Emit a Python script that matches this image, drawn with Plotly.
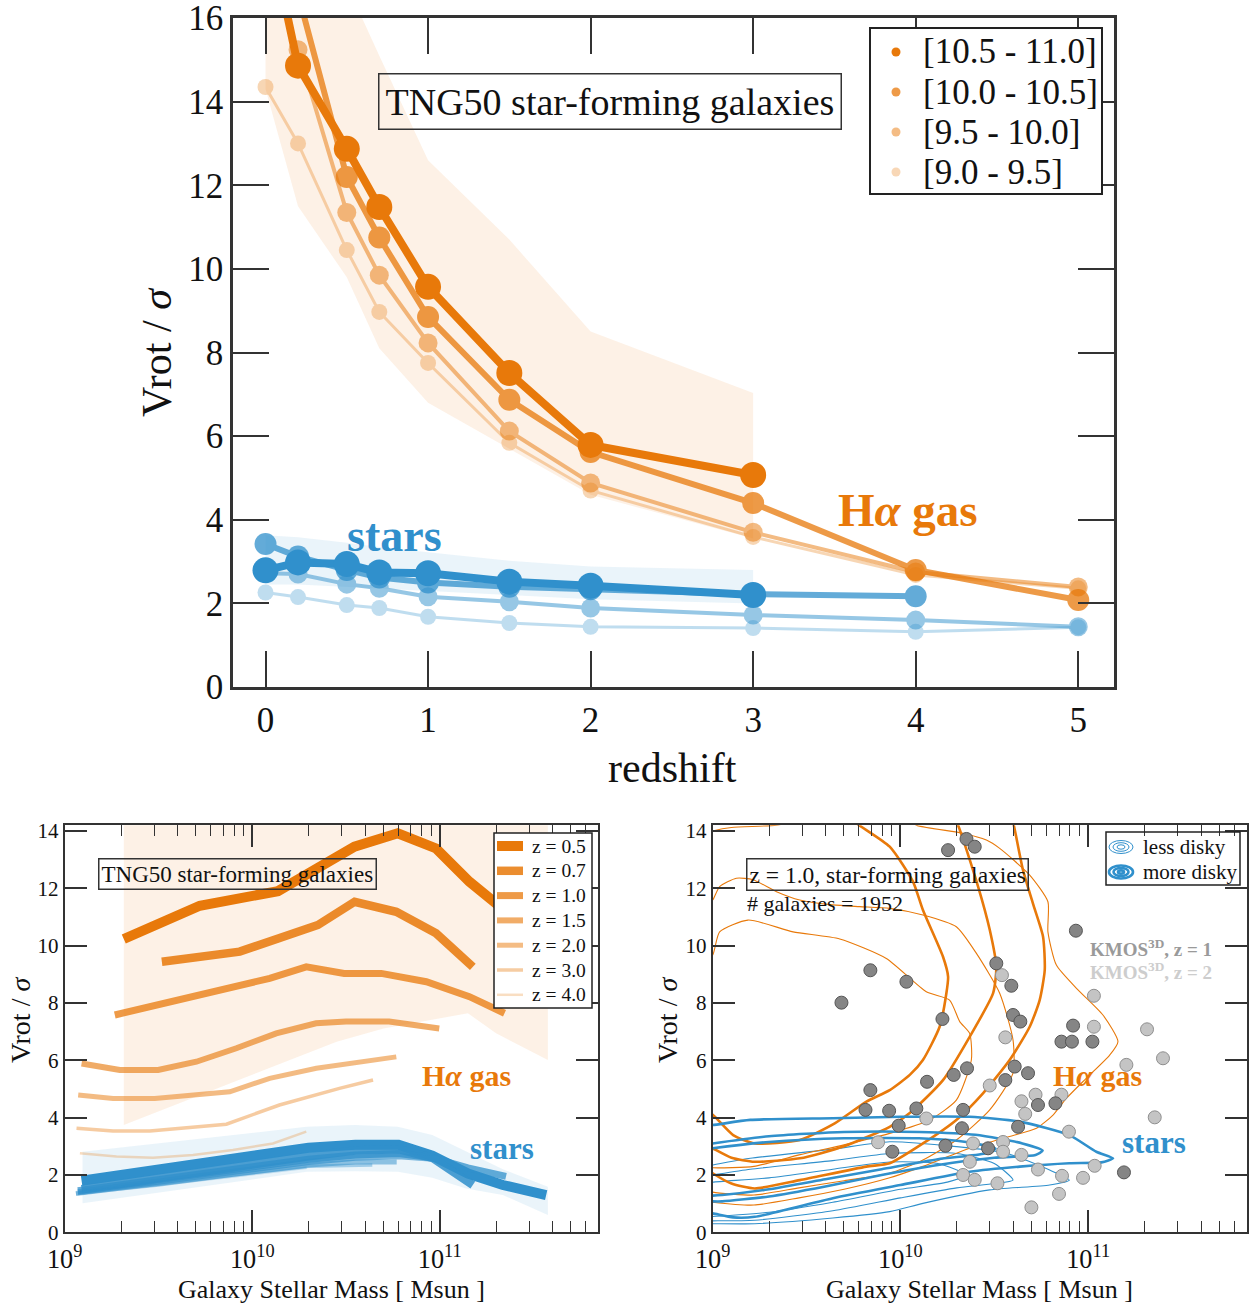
import numpy as np
import plotly.graph_objects as go

W, H = 1250, 1306
ORANGE = (232, 121, 10)
BLUE = (48, 144, 204)
SERIF = "Liberation Serif"
AXC = "#333333"


def rgba(c, a):
    return "rgba(%d,%d,%d,%.3f)" % (c[0], c[1], c[2], a)


def tint(c, a):
    # colour of c drawn at opacity a over white
    return "rgb(%d,%d,%d)" % tuple(round(255 - (255 - v) * a) for v in c)


def px(x):
    return x / W


def py(y):
    return 1 - y / H


# ---------------- top panel: Vrot/sigma against redshift -----------------
mass_bins = ["[10.5 - 11.0]", "[10.0 - 10.5]", "[9.5 - 10.0]", "[9.0 - 9.5]"]
bin_alpha = [1.0, 0.75, 0.5, 0.3]
bin_width = [8, 6, 4, 3]
bin_msize = [26, 22, 19, 16]

gas_z_b1 = [0, 0.2, 0.5, 0.7, 1, 1.5, 2, 3]
gas_v_b1 = [18.5, 14.86, 12.87, 11.48, 9.57, 7.51, 5.79, 5.07]
gas_z_b2 = [0, 0.2, 0.5, 0.7, 1, 1.5, 2, 3, 4, 5]
gas_v_b2 = [19.5, 16.6, 12.2, 10.75, 8.85, 6.87, 5.62, 4.4, 2.8, 2.08]
gas_z_b3 = [0.2, 0.5, 0.7, 1, 1.5, 2, 3, 4, 5]
gas_v_b3 = [15.24, 11.35, 9.85, 8.23, 6.12, 4.88, 3.7, 2.75, 2.39]
gas_z_b4 = [0, 0.2, 0.5, 0.7, 1, 1.5, 2, 3, 4, 5]
gas_v_b4 = [14.35, 13.0, 10.45, 8.97, 7.75, 5.84, 4.7, 3.59, 2.68, 2.36]

star_z_b1 = [0, 0.2, 0.5, 0.7, 1, 1.5, 2, 3]
star_v_b1 = [2.79, 2.98, 2.94, 2.74, 2.72, 2.52, 2.42, 2.2]
star_z_b2 = [0, 0.2, 0.5, 0.7, 1, 1.5, 2, 3, 4]
star_v_b2 = [3.42, 3.12, 2.8, 2.62, 2.5, 2.4, 2.34, 2.22, 2.17]
star_z_b3 = [0, 0.2, 0.5, 0.7, 1, 1.5, 2, 3, 4, 5]
star_v_b3 = [2.72, 2.7, 2.46, 2.36, 2.16, 2.04, 1.89, 1.72, 1.6, 1.44]
star_z_b4 = [0, 0.2, 0.5, 0.7, 1, 1.5, 2, 3, 4, 5]
star_v_b4 = [2.26, 2.15, 1.96, 1.89, 1.68, 1.53, 1.44, 1.41, 1.32, 1.43]

gas_band_z = [0, 0.2, 0.5, 0.7, 1, 1.5, 2, 3]
gas_band_lo = [14.3, 11.5, 9.8, 8.1, 6.8, 5.7, 4.6, 3.55]
gas_band_hi = [17.0, 17.0, 16.8, 15.1, 12.6, 10.7, 8.5, 7.03]
star_band_z = [0, 0.2, 0.5, 0.7, 1, 1.5, 2, 3]
star_band_lo = [2.45, 2.45, 2.4, 2.35, 2.3, 2.2, 2.1, 2.0]
star_band_hi = [3.63, 3.58, 3.45, 3.35, 3.22, 3.02, 2.88, 2.8]

gas_bins = [(gas_z_b1, gas_v_b1), (gas_z_b2, gas_v_b2), (gas_z_b3, gas_v_b3), (gas_z_b4, gas_v_b4)]
star_bins = [(star_z_b1, star_v_b1), (star_z_b2, star_v_b2), (star_z_b3, star_v_b3), (star_z_b4, star_v_b4)]

# ---------------- bottom-left: Vrot/sigma against stellar mass -----------------
z_labels = ["z = 0.5", "z = 0.7", "z = 1.0", "z = 1.5", "z = 2.0", "z = 3.0", "z = 4.0"]
z_alpha = [1.0, 0.85, 0.75, 0.62, 0.5, 0.38, 0.25]
z_width = [10, 8.5, 7, 6, 5, 3.5, 2.5]

gas_logm_z05 = [9.315, 9.72, 10.137, 10.545, 10.776, 10.98, 11.158, 11.29, 11.35]
gas_v_z05 = [10.23, 11.39, 11.9, 13.45, 13.92, 13.39, 12.23, 11.53, 11.2]
gas_logm_z07 = [9.518, 9.933, 10.35, 10.546, 10.768, 10.98, 11.176]
gas_v_z07 = [9.44, 9.79, 10.72, 11.53, 11.18, 10.43, 9.26]
gas_logm_z10 = [9.267, 9.897, 10.093, 10.288, 10.49, 10.688, 10.928, 11.158, 11.345]
gas_v_z10 = [7.58, 8.51, 8.86, 9.26, 9.03, 9.03, 8.74, 8.22, 7.64]
gas_logm_z15 = [9.09, 9.294, 9.498, 9.702, 9.915, 10.128, 10.34, 10.5, 10.73, 10.997]
gas_v_z15 = [5.89, 5.66, 5.66, 5.95, 6.42, 6.94, 7.29, 7.35, 7.35, 7.11]
gas_logm_z20 = [9.072, 9.258, 9.48, 9.88, 10.093, 10.342, 10.768]
gas_v_z20 = [4.79, 4.67, 4.67, 4.9, 5.37, 5.72, 6.12]
gas_logm_z30 = [9.063, 9.258, 9.454, 9.862, 10.145, 10.465, 10.644]
gas_v_z30 = [3.63, 3.53, 3.53, 3.77, 4.44, 5.02, 5.31]
gas_logm_z40 = [9.081, 9.276, 9.471, 9.684, 9.897, 10.11, 10.288]
gas_v_z40 = [2.76, 2.64, 2.6, 2.7, 2.87, 3.1, 3.51]

star_logm_z05 = [9.09, 9.3, 9.7, 10.1, 10.3, 10.55, 10.78, 10.96, 11.15, 11.336, 11.567]
star_v_z05 = [1.8, 2.0, 2.45, 2.8, 2.95, 3.05, 3.05, 2.67, 2.05, 1.65, 1.3]
star_logm_z07 = [9.09, 9.5, 9.9, 10.3, 10.55, 10.78, 10.96, 11.176]
star_v_z07 = [1.5, 1.9, 2.3, 2.65, 2.85, 2.9, 2.6, 1.65]
star_logm_z10 = [9.07, 9.5, 9.9, 10.3, 10.55, 10.78, 10.96, 11.15, 11.353]
star_v_z10 = [1.45, 1.85, 2.2, 2.55, 2.7, 2.75, 2.6, 2.25, 1.95]
star_logm_z15 = [9.07, 9.5, 9.9, 10.3, 10.55, 10.78, 11.0]
star_v_z15 = [1.4, 1.75, 2.1, 2.45, 2.6, 2.65, 2.55]
star_logm_z20 = [9.06, 9.5, 9.9, 10.3, 10.55, 10.77]
star_v_z20 = [1.35, 1.7, 2.05, 2.35, 2.45, 2.45]
star_logm_z30 = [9.06, 9.5, 9.9, 10.3, 10.64]
star_v_z30 = [1.35, 1.65, 2.0, 2.3, 2.35]
star_logm_z40 = [9.08, 9.5, 9.9, 10.29]
star_v_z40 = [1.4, 1.65, 1.95, 2.25]

mass_gas_band_logm = [9.315, 10.45, 10.7, 11.15, 11.3, 11.576]
mass_gas_band_lo = [3.74, 6.65, 7.11, 7.64, 6.94, 6.01]
mass_gas_band_hi = [15.0, 15.0, 15.0, 15.0, 15.0, 15.0]
mass_star_band_logm = [9.095, 10.29, 10.546, 10.776, 10.96, 11.14, 11.336, 11.576]
mass_star_band_lo = [1.01, 2.11, 2.13, 2.11, 1.9, 1.53, 1.3, 0.6]
mass_star_band_hi = [2.81, 3.68, 3.74, 3.68, 3.39, 2.81, 2.2, 1.59]

gas_by_z = [(gas_logm_z05, gas_v_z05), (gas_logm_z07, gas_v_z07), (gas_logm_z10, gas_v_z10),
            (gas_logm_z15, gas_v_z15), (gas_logm_z20, gas_v_z20), (gas_logm_z30, gas_v_z30),
            (gas_logm_z40, gas_v_z40)]
star_by_z = [(star_logm_z05, star_v_z05), (star_logm_z07, star_v_z07), (star_logm_z10, star_v_z10),
             (star_logm_z15, star_v_z15), (star_logm_z20, star_v_z20), (star_logm_z30, star_v_z30),
             (star_logm_z40, star_v_z40)]

# ---------------- bottom-right: z = 1 density contours and KMOS3D -----------------
# H-alpha gas, more disky population (thick contours)
gas_disky_c1_logm = [8.95, 9.0, 9.109, 9.224, 9.464, 9.65, 9.819, 9.943, 10.05, 10.12, 10.209, 10.245, 10.254,
                     10.227, 10.12, 10.067, 9.943, 9.78, 9.72]
gas_disky_c1_v = [4.3, 4.1, 3.39, 3.1, 3.22, 3.8, 4.56, 4.96, 5.49, 6.01, 7.17, 8.34, 8.92,
                  9.61, 11.24, 12.23, 13.45, 14.2, 14.5]
gas_disky_c2_logm = [8.95, 9.0, 9.1, 9.224, 9.464, 9.7, 9.943, 10.05, 10.227, 10.369, 10.494, 10.511, 10.476,
                     10.414, 10.307, 10.28]
gas_disky_c2_v = [3.1, 2.93, 2.6, 2.46, 2.58, 3.0, 3.68, 4.16, 5.31, 6.82, 8.34, 9.26, 10.55,
                  12.06, 14.2, 14.5]
gas_disky_c3_logm = [8.95, 9.0, 9.1, 9.224, 9.464, 9.819, 9.943, 10.12, 10.298, 10.44, 10.582, 10.689, 10.742,
                     10.769, 10.76, 10.706, 10.653, 10.604, 10.59]
gas_disky_c3_v = [2.3, 2.06, 1.7, 1.53, 1.82, 2.29, 2.41, 3.1, 3.92, 4.85, 6.01, 7.17, 8.1,
                  9.15, 10.31, 11.47, 12.64, 14.2, 14.5]
# H-alpha gas, less disky population (thin contours)
gas_less_c1_logm = [8.95, 9.0, 9.037, 9.188, 9.428, 9.677, 9.925, 10.138, 10.262, 10.316, 10.369, 10.378,
                    10.298, 10.156, 9.943, 9.7, 9.46, 9.22, 9.0, 8.95]
gas_less_c1_v = [9.4, 9.67, 10.48, 10.89, 10.48, 10.23, 9.55, 8.39, 8.1, 7.35, 6.94, 6.01,
                 4.61, 3.92, 3.45, 3.05, 2.7, 2.3, 2.25, 2.3]
gas_less_c2_logm = [8.95, 9.0, 9.037, 9.126, 9.215, 9.34, 9.464, 9.64, 9.783, 9.943, 10.12, 10.298, 10.405,
                    10.529, 10.6, 10.6, 10.476, 10.298, 10.12, 9.943, 9.7, 9.46, 9.22, 9.0, 8.95]
gas_less_c2_v = [11.3, 11.59, 12.06, 12.35, 12.3, 11.88, 11.59, 11.42, 11.36, 11.3, 11.07, 10.66, 9.73,
                 8.34, 6.71, 5.55, 4.27, 3.22, 2.52, 2.06, 1.8, 1.55, 1.3, 1.4, 1.5]
gas_less_c3_logm = [8.95, 9.0, 9.1, 9.34, 9.5, 10.05, 10.085, 10.334, 10.458, 10.529, 10.689, 10.786, 10.786,
                    10.831, 10.938, 11.079, 11.159, 11.115, 10.99, 10.884, 10.813, 10.725, 10.547, 10.369,
                    10.12, 9.943, 9.7, 9.46, 9.22, 9.0, 8.95]
gas_less_c3_v = [13.9, 14.0, 14.12, 14.2, 14.4, 14.4, 14.2, 13.92, 13.68, 13.39, 12.46, 11.53, 10.48,
                 9.32, 8.51, 7.58, 6.65, 6.18, 5.37, 4.67, 4.09, 3.63, 3.28, 2.93,
                 2.3, 1.9, 1.5, 1.2, 0.95, 1.05, 1.1]
# stars, more disky population (thick contours)
star_disky_c1_logm = [8.95, 9.0, 9.2, 9.64, 10.0, 10.369, 10.636, 10.9, 11.044, 11.133, 11.071, 10.9, 10.636,
                      10.369, 10.0, 9.64, 9.224, 9.109, 9.0, 8.95]
star_disky_c1_v = [3.72, 3.74, 3.92, 3.98, 4.03, 4.03, 3.86, 3.39, 2.81, 2.58, 2.44, 2.41, 2.29,
                   2.11, 1.65, 1.19, 0.54, 0.52, 0.66, 0.7]
star_disky_c2_logm = [8.95, 9.0, 9.3, 9.7, 10.1, 10.4, 10.65, 10.758, 10.72, 10.5, 10.2, 9.9, 9.6, 9.3, 9.05,
                      9.0, 8.95]
star_disky_c2_v = [3.05, 3.1, 3.35, 3.5, 3.5, 3.4, 3.1, 2.85, 2.7, 2.6, 2.35, 2.0, 1.6, 1.25, 1.08,
                   1.08, 1.1]
star_disky_c3_logm = [8.95, 9.0, 9.3, 9.7, 10.1, 10.35, 10.507, 10.45, 10.2, 9.9, 9.6, 9.3, 9.05, 9.0, 8.95]
star_disky_c3_v = [2.88, 2.93, 3.15, 3.28, 3.28, 3.15, 2.92, 2.75, 2.55, 2.2, 1.85, 1.5, 1.3, 1.28, 1.28]
# stars, less disky population (thin contours)
star_less_c1_logm = [8.95, 9.0, 9.2, 9.64, 9.943, 10.298, 10.565, 10.795, 10.9, 10.795, 10.476, 10.12, 9.943,
                     9.64, 9.224, 9.0, 8.95]
star_less_c1_v = [2.3, 2.35, 2.58, 2.9, 3.16, 2.99, 2.76, 2.17, 1.82, 1.65, 1.48, 1.01, 0.72,
                  0.5, 0.3, 0.3, 0.3]
star_less_c2_logm = [8.95, 9.0, 9.2, 9.64, 9.943, 10.3, 10.5, 10.6, 10.5, 10.3, 10.0, 9.64, 9.224, 9.0, 8.95]
star_less_c2_v = [1.95, 2.0, 2.2, 2.5, 2.75, 2.75, 2.4, 1.82, 1.7, 1.55, 1.2, 0.75, 0.42, 0.4, 0.4]
star_less_c3_logm = [8.95, 9.0, 9.3, 9.64, 9.943, 10.2, 10.35, 10.25, 10.0, 9.64, 9.3, 9.0, 8.95]
star_less_c3_v = [1.7, 1.75, 1.9, 2.2, 2.45, 2.4, 2.0, 1.75, 1.5, 1.05, 0.7, 0.55, 0.55]

kmos_z1_logm = [9.686, 9.84, 10.032, 10.224, 10.254, 10.352, 10.396, 9.84, 10.142, 10.284, 10.355, 9.814,
                9.94, 10.085, 10.334, 9.991, 10.328, 9.957, 10.24, 10.935, 10.511, 10.591, 10.6, 10.639,
                10.92, 10.858, 10.914, 11.023, 10.609, 10.68, 10.559, 10.733, 10.826, 10.627, 10.467, 11.191]
kmos_z1_v = [8.01, 9.14, 8.74, 7.44, 13.33, 13.72, 13.45, 4.96, 5.25, 5.49, 5.72, 4.27,
             4.24, 4.32, 4.27, 3.72, 3.63, 2.81, 3.02, 10.52, 9.38, 8.6, 7.58, 7.35,
             7.21, 6.65, 6.65, 6.65, 5.78, 5.55, 5.31, 4.44, 4.5, 3.68, 2.93, 2.09]
kmos_z2_logm = [10.138, 9.881, 10.334, 10.396, 10.37, 10.387, 10.541, 10.559, 11.031, 11.031, 11.314,
                11.399, 11.204, 10.476, 10.72, 10.858, 10.645, 10.665, 11.355, 10.898, 10.547, 10.547,
                10.645, 10.733, 11.035, 10.861, 10.973, 10.517, 10.845, 10.698]
kmos_z2_v = [3.97, 3.14, 2.0, 1.83, 2.46, 3.1, 8.97, 6.8, 8.25, 7.17, 7.08,
             6.07, 5.84, 5.12, 4.8, 4.8, 4.57, 4.13, 4.01, 3.51, 3.15, 2.81,
             2.7, 2.19, 2.32, 1.97, 1.9, 1.71, 1.34, 0.87]

fig = go.Figure()

# ---- top panel ----
fig.add_trace(go.Scatter(x=gas_band_z + gas_band_z[::-1], y=gas_band_hi + gas_band_lo[::-1],
                         fill="toself", fillcolor=rgba(ORANGE, 0.1), line=dict(width=0),
                         mode="lines", hoverinfo="skip", xaxis="x", yaxis="y"))
fig.add_trace(go.Scatter(x=star_band_z + star_band_z[::-1], y=star_band_hi + star_band_lo[::-1],
                         fill="toself", fillcolor=rgba(BLUE, 0.1), line=dict(width=0),
                         mode="lines", hoverinfo="skip", xaxis="x", yaxis="y"))
for i in range(3, -1, -1):
    for col, (zz, vv) in ((BLUE, star_bins[i]), (ORANGE, gas_bins[i])):
        fig.add_trace(go.Scatter(x=zz, y=vv, mode="lines+markers", opacity=bin_alpha[i],
                                 line=dict(color=rgba(col, 1), width=bin_width[i]),
                                 marker=dict(color=rgba(col, 1), size=bin_msize[i]),
                                 xaxis="x", yaxis="y"))

# ---- bottom-left panel ----
fig.add_trace(go.Scatter(x=10 ** np.array(mass_gas_band_logm + mass_gas_band_logm[::-1]),
                         y=mass_gas_band_lo + mass_gas_band_hi[::-1], fill="toself",
                         fillcolor=rgba(ORANGE, 0.1), line=dict(width=0), mode="lines",
                         hoverinfo="skip", xaxis="x2", yaxis="y2"))
fig.add_trace(go.Scatter(x=10 ** np.array(mass_star_band_logm + mass_star_band_logm[::-1]),
                         y=mass_star_band_hi + mass_star_band_lo[::-1], fill="toself",
                         fillcolor=rgba(BLUE, 0.1), line=dict(width=0), mode="lines",
                         hoverinfo="skip", xaxis="x2", yaxis="y2"))
for i in range(len(z_labels)):
    lm, vv = star_by_z[i]
    fig.add_trace(go.Scatter(x=10 ** np.array(lm), y=vv, mode="lines", opacity=z_alpha[i],
                             line=dict(color=rgba(BLUE, 1), width=z_width[i]),
                             xaxis="x2", yaxis="y2"))
for i in range(len(z_labels)):
    lm, vv = gas_by_z[i]
    fig.add_trace(go.Scatter(x=10 ** np.array(lm), y=vv, mode="lines", opacity=z_alpha[i],
                             line=dict(color=rgba(ORANGE, 1), width=z_width[i]), name=z_labels[i],
                             xaxis="x2", yaxis="y2"))

# ---- bottom-right panel ----
contours = [
    (star_less_c1_logm, star_less_c1_v, BLUE, 1.1), (star_less_c2_logm, star_less_c2_v, BLUE, 1.1),
    (star_less_c3_logm, star_less_c3_v, BLUE, 1.1),
    (gas_less_c1_logm, gas_less_c1_v, ORANGE, 1.1), (gas_less_c2_logm, gas_less_c2_v, ORANGE, 1.1),
    (gas_less_c3_logm, gas_less_c3_v, ORANGE, 1.1),
    (gas_disky_c1_logm, gas_disky_c1_v, ORANGE, 2.6), (gas_disky_c2_logm, gas_disky_c2_v, ORANGE, 2.6),
    (gas_disky_c3_logm, gas_disky_c3_v, ORANGE, 2.6),
    (star_disky_c1_logm, star_disky_c1_v, BLUE, 2.6), (star_disky_c2_logm, star_disky_c2_v, BLUE, 2.6),
    (star_disky_c3_logm, star_disky_c3_v, BLUE, 2.6),
]
for lm, vv, col, w in contours:
    fig.add_trace(go.Scatter(x=10 ** np.array(lm), y=vv, mode="lines",
                             line=dict(color=rgba(col, 1), width=w, shape="spline", smoothing=0.6),
                             xaxis="x3", yaxis="y3"))
fig.add_trace(go.Scatter(x=10 ** np.array(kmos_z2_logm), y=kmos_z2_v, mode="markers",
                         marker=dict(color="#c4c4c4", size=13, line=dict(color="#8f8f8f", width=1)),
                         xaxis="x3", yaxis="y3"))
fig.add_trace(go.Scatter(x=10 ** np.array(kmos_z1_logm), y=kmos_z1_v, mode="markers",
                         marker=dict(color="#858585", size=13, line=dict(color="#555555", width=1)),
                         xaxis="x3", yaxis="y3"))

# ---- axes ----
common = dict(showline=True, linecolor=AXC, mirror="allticks", showgrid=False, zeroline=False,
              ticks="inside", tickcolor=AXC, automargin=False, ticklabeloverflow="allow")
top_x = dict(common, domain=[px(233), px(1114)], range=[-0.2, 5.22], tickvals=[0, 1, 2, 3, 4, 5],
             ticklen=36, tickwidth=2, linewidth=2.5,
             tickfont=dict(family=SERIF, size=35, color="#111"), anchor="y")
top_y = dict(common, domain=[py(687), py(18)], range=[0, 16], tickvals=list(range(0, 17, 2)),
             ticklen=36, tickwidth=2, linewidth=2.5,
             tickfont=dict(family=SERIF, size=35, color="#111"), anchor="x")


def mass_x(dom, anchor):
    return dict(common, domain=dom, type="log", range=[9, 11.845], dtick=1, exponentformat="power",
                ticklen=22, tickwidth=1.5, linewidth=2, ticklabelstandoff=3,
                minor=dict(ticks="inside", ticklen=11, tickwidth=1.2, tickcolor=AXC, dtick="D1"),
                tickfont=dict(family=SERIF, size=21, color="#111"), anchor=anchor)


def mass_y(anchor):
    return dict(common, domain=[py(1232.3), py(825.2)], range=[0, 14.2], tickvals=list(range(0, 15, 2)),
                ticklen=22, tickwidth=1.5, linewidth=2,
                tickfont=dict(family=SERIF, size=21, color="#111"), anchor=anchor)


ann = []
shapes = []


def text(x, y, s, size, color="#111", bold=False, box=False, angle=0, xanchor="center", pad=4):
    a = dict(x=px(x), y=py(y), xref="paper", yref="paper", text=("<b>%s</b>" % s) if bold else s,
             showarrow=False, font=dict(family=SERIF, size=size, color=color), textangle=angle,
             xanchor=xanchor, yanchor="middle")
    if box:
        a.update(bordercolor="#333", borderwidth=1.5, borderpad=pad)
    ann.append(a)


def box(x0, y0, x1, y1, width=1.5, fill="rgba(0,0,0,0)"):
    shapes.append(dict(type="rect", xref="paper", yref="paper", x0=px(x0), x1=px(x1), y0=py(y1), y1=py(y0),
                       line=dict(color="#222", width=width), fillcolor=fill, layer="above"))


# axis titles
text(672, 768, "redshift", 42)
text(157, 352, "Vrot / <i>σ</i>", 42, angle=-90)
text(331, 1289, "Galaxy Stellar Mass [ Msun ]", 26)
text(20, 1020, "Vrot / <i>σ</i>", 28, angle=-90)
text(979, 1289, "Galaxy Stellar Mass [ Msun ]", 26)
text(667, 1020, "Vrot / <i>σ</i>", 28, angle=-90)

# in-panel labels
text(609.5, 101, "TNG50 star-forming galaxies", 38, box=True, pad=6)
text(394, 535, "stars", 46, color=rgba(BLUE, 1), bold=True)
text(908, 510, "H<i>α</i> gas", 47, color=rgba(ORANGE, 1), bold=True)

text(237.5, 874, "TNG50 star-forming galaxies", 23, box=True, pad=2)
text(466, 1075, "H<i>α</i> gas", 30, color=rgba(ORANGE, 1), bold=True)
text(502, 1148, "stars", 31, color=rgba(BLUE, 1), bold=True)

text(887, 874, "z = 1.0, star-forming galaxies", 23.5, box=True, pad=2)
text(745, 903, "# galaxies = 1952", 22, xanchor="left")
text(1088, 948, "KMOS<sup>3D</sup>, z = 1", 19, color="#9a9a9a", bold=True, xanchor="left")
text(1088, 971, "KMOS<sup>3D</sup>, z = 2", 19, color="#cdcdcd", bold=True, xanchor="left")
text(1097, 1075, "H<i>α</i> gas", 30, color=rgba(ORANGE, 1), bold=True)
text(1154, 1142, "stars", 31, color=rgba(BLUE, 1), bold=True)

# key of the top panel: stellar-mass bins
box(870, 28, 1102, 194, width=2, fill="white")
for i, lab in enumerate(mass_bins):
    yy = 52 + 40 * i
    shapes.append(dict(type="circle", xref="paper", yref="paper", xsizemode="pixel", ysizemode="pixel",
                       xanchor=px(896), yanchor=py(yy), x0=-4.5, x1=4.5, y0=-4.5, y1=4.5,
                       line=dict(width=0), fillcolor=tint(ORANGE, max(bin_alpha[i], 0.3)), layer="above"))
    text(921, yy, lab, 35, xanchor="left")

# key of the bottom-left panel: redshifts
box(494, 833, 592, 1008, width=1.5, fill="white")
for i, lab in enumerate(z_labels):
    yy = 846 + 24.8 * i
    shapes.append(dict(type="line", xref="paper", yref="paper", x0=px(497), x1=px(523), y0=py(yy), y1=py(yy),
                       line=dict(color=tint(ORANGE, z_alpha[i]), width=z_width[i]), layer="above"))
    text(530, yy, lab, 19.5, xanchor="left")

# key of the bottom-right panel: disky / less disky
box(1106, 832, 1240, 885, width=1.5)
text(1141, 847, "less disky", 21, xanchor="left")
text(1141, 872, "more disky", 21, xanchor="left")
for cy, lw, sizes in ((847, 1, [(12, 6.5), (8, 4.3), (4, 2.2)]),
                      (872, 2.6, [(12, 6.5), (7.5, 4), (3, 1.6)])):
    for rx, ry in sizes:
        shapes.append(dict(type="circle", xref="paper", yref="paper", xsizemode="pixel", ysizemode="pixel",
                           xanchor=px(1121), yanchor=py(cy), x0=-rx, x1=rx, y0=-ry, y1=ry,
                           line=dict(color=rgba(BLUE, 1), width=lw)))

fig.update_layout(
    width=W, height=H, margin=dict(l=0, r=0, t=0, b=0, autoexpand=False),
    paper_bgcolor="white", plot_bgcolor="white", showlegend=False,
    xaxis=top_x, yaxis=top_y,
    xaxis2=mass_x([px(64.7), px(598.3)], "y2"), yaxis2=mass_y("x2"),
    xaxis3=mass_x([px(712.7), px(1246.7)], "y3"), yaxis3=mass_y("x3"),
    annotations=ann, shapes=shapes,
)

fig.write_html("out.html")
